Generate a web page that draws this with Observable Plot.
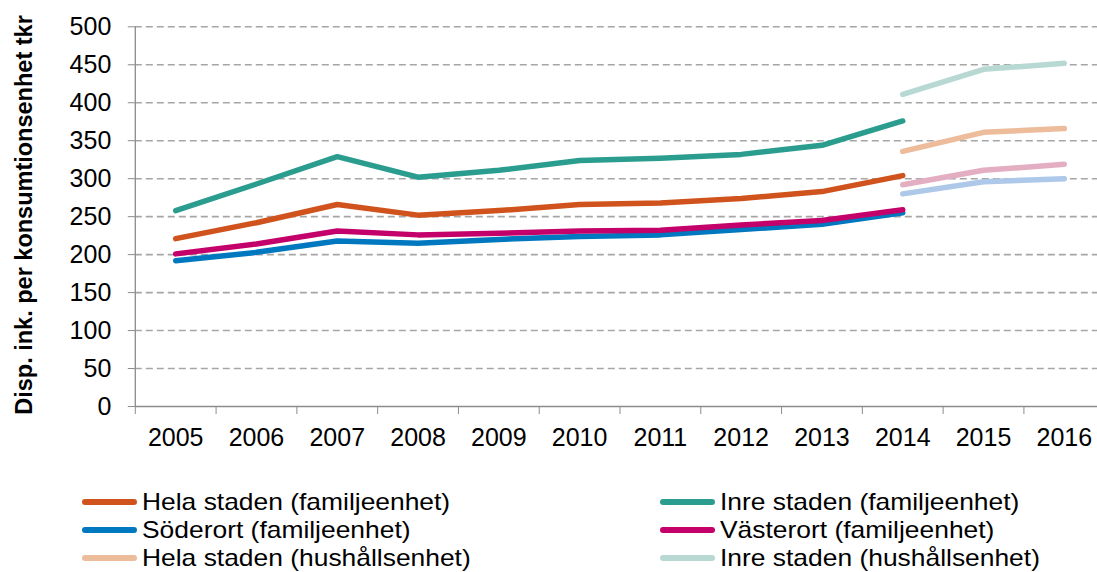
<!DOCTYPE html>
<html>
<head>
<meta charset="utf-8">
<script src="https://cdn.jsdelivr.net/npm/d3@7"></script>
<script src="https://cdn.jsdelivr.net/npm/@observablehq/plot@0.6"></script>
<style>
  html, body { margin: 0; padding: 0; background: #fff; }
  body { width: 1097px; height: 572px; overflow: hidden; font-family: "Liberation Sans", Arial, sans-serif; }
  #legend { display: grid; grid-template-columns: 578px 437px; padding-left: 82px; margin-top: 23px; }
  .item { display: flex; align-items: center; height: 28px; font-size: 24px; color: #000; white-space: nowrap; }
  .sw { width: 55px; height: 6px; border-radius: 3px; margin-right: 5px; flex: none; }
  .tx { display: inline-block; transform: scaleX(1.1); transform-origin: left center; }
</style>
</head>
<body>
<div id="chart"></div>
<div id="legend"></div>
<script>
const years = [2005, 2006, 2007, 2008, 2009, 2010, 2011, 2012, 2013, 2014, 2015, 2016];
const yTicks = [0, 50, 100, 150, 200, 250, 300, 350, 400, 450, 500];
const seriesNames = [
  "Hela staden (familjeenhet)",
  "Inre staden (familjeenhet)",
  "Söderort (familjeenhet)",
  "Västerort (familjeenhet)",
  "Hela staden (hushållsenhet)",
  "Inre staden (hushållsenhet)",
  "Söderort (hushållsenhet)",
  "Västerort (hushållsenhet)"
];
const helaFamilj    = [221, 242, 266, 252, 258, 266, 268, 274, 283, 304, null, null];
const inreFamilj    = [258, 293, 329, 302, 311, 324, 327, 332, 344, 376, null, null];
const soderFamilj   = [192, 203, 218, 215, 220, 224, 226, 233, 240, 255, null, null];
const vasterFamilj  = [201, 214, 231, 226, 228, 231, 232, 239, 245, 259, null, null];
const helaHushall   = [null, null, null, null, null, null, null, null, null, 336, 361, 366];
const inreHushall   = [null, null, null, null, null, null, null, null, null, 411, 444, 452];
const soderHushall  = [null, null, null, null, null, null, null, null, null, 280, 296, 300];
const vasterHushall = [null, null, null, null, null, null, null, null, null, 292, 311, 319];
const colors = ["#D0531D", "#2A9D8F", "#0078C0", "#C4006B", "#EDBC9A", "#B8D9D3", "#AEC8EA", "#E4AEC2"];
const legendShown = [0, 1, 2, 3, 4, 5];

const allSeries = [helaFamilj, inreFamilj, soderFamilj, vasterFamilj, helaHushall, inreHushall, soderHushall, vasterHushall];
const data = [];
allSeries.forEach((vals, si) => {
  vals.forEach((v, i) => { if (v != null) data.push({series: seriesNames[si], year: years[i], value: v}); });
});
const boundaries = years.map(y => y - 0.5).concat([years[years.length - 1] + 0.5]);

const W = 1097, H = 465;
const chart = Plot.plot({
  width: W,
  height: H,
  marginLeft: 134.8,
  marginRight: 0,
  marginTop: 26.3,
  marginBottom: 59,
  style: {fontFamily: "Liberation Sans, Arial, sans-serif", background: "#fff", color: "#000"},
  x: {type: "linear", domain: [2004.5, 2016.5], range: [134.8, 1104.2]},
  y: {domain: [0, 500]},
  color: {domain: seriesNames, range: colors},
  marks: [
    Plot.ruleY(yTicks.filter(d => d > 0), {x1: 2004.5, x2: 2016.5, stroke: "#A6A6A6", strokeWidth: 1.6, strokeDasharray: "7,4"}),
    Plot.ruleY([0], {x1: 2004.5, x2: 2016.5, stroke: "#8C8C8C", strokeWidth: 1.3}),
    Plot.ruleX([2004.5], {y1: 0, y2: 500, stroke: "#8C8C8C", strokeWidth: 1.3}),
    Plot.axisY({ticks: yTicks, tickSize: 7, tickPadding: 17, fontSize: 25, stroke: "#8C8C8C", fill: "#000", label: null, tickFormat: d => String(d)}),
    Plot.axisX({ticks: boundaries, tickSize: 8, stroke: "#8C8C8C", tickFormat: () => "", label: null}),
    Plot.axisX({ticks: years, tickSize: 0, tickPadding: 22, fontSize: 25, fill: "#000", tickFormat: d => String(d), label: null}),
    Plot.line(data, {x: "year", y: "value", z: "series", stroke: "series", strokeWidth: 5.5, strokeLinecap: "round", strokeLinejoin: "round"})
  ]
});
// y-axis title
const svg = d3.select(chart);
svg.append("text")
  .attr("transform", "translate(32,215) rotate(-90)")
  .attr("text-anchor", "middle")
  .attr("font-size", 23.5)
  .attr("font-weight", "bold")
  .attr("fill", "#000")
  .text("Disp. ink. per konsumtionsenhet tkr");
document.getElementById("chart").appendChild(chart);

const legend = document.getElementById("legend");
legendShown.forEach(i => {
  const it = document.createElement("div");
  it.className = "item";
  const sw = document.createElement("span");
  sw.className = "sw";
  sw.style.background = colors[i];
  const tx = document.createElement("span");
  tx.className = "tx";
  tx.textContent = seriesNames[i];
  it.appendChild(sw); it.appendChild(tx);
  legend.appendChild(it);
});
</script>
</body>
</html>
